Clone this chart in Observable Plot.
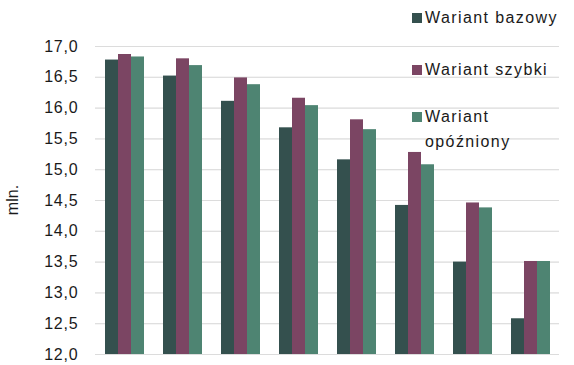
<!DOCTYPE html>
<html><head><meta charset="utf-8">
<script src="https://cdn.jsdelivr.net/npm/d3@7"></script>
<script src="https://cdn.jsdelivr.net/npm/@observablehq/plot@0.6"></script>
<style>
body{margin:0;background:#fff;font-family:"Liberation Sans",Arial,sans-serif;}
#wrap{position:relative;width:574px;height:365px;}
.leg{position:absolute;font-size:16px;color:#1a1a1a;letter-spacing:1.4px;line-height:25px;}
.sw{position:absolute;width:10px;height:10px;}
svg g[aria-label="y-axis tick label"] text{letter-spacing:0.8px;}
</style></head>
<body><div id="wrap"></div>
<script>
const groups = ["1","2","3","4","5","6","7","8"];
const seriesNames = ["Wariant bazowy","Wariant szybki","Wariant opóźniony"];
const bazowy = [16.78,16.52,16.11,15.68,15.16,14.42,13.50,12.58];
const szybki = [16.87,16.80,16.49,16.16,15.81,15.28,14.46,13.51];
const opozniony = [16.83,16.69,16.38,16.04,15.65,15.08,14.38,13.51];
const colors = ["#34504e","#7b4563","#4e8472"];
const yTicks = [12,12.5,13,13.5,14,14.5,15,15.5,16,16.5,17];

const seriesValues = [bazowy, szybki, opozniony];
const data = [];
groups.forEach((g,i)=>seriesNames.forEach((s,j)=>data.push({group:g, series:s, value:seriesValues[j][i]})));

const chart = Plot.plot({
  width:574, height:365,
  marginLeft:91, marginRight:12, marginTop:46, marginBottom:11,
  style:{fontFamily:"'Liberation Sans', Arial, sans-serif", fontSize:"16px", color:"#1a1a1a", background:"#fff"},
  fx:{domain:groups, padding:0, axis:null},
  x:{domain:seriesNames, paddingInner:0, paddingOuter:0.71, axis:null},
  y:{domain:[12,17], ticks:yTicks, tickFormat:d=>d3.format(".1f")(d).replace(".",","), tickSize:0, tickPadding:17, grid:true, label:null},
  color:{domain:seriesNames, range:colors},
  marks:[
    Plot.gridY(yTicks,{stroke:"#dcdcdc", strokeOpacity:1}),
    Plot.barY(data,{fx:"group", x:"series", y1:12, y2:"value", fill:"series"})
  ]
});
const wrap = document.getElementById("wrap");
wrap.appendChild(chart);

// y label
const ylab = document.createElement("div");
ylab.textContent = "mln.";
ylab.style.cssText = "position:absolute;left:-5px;top:191px;width:36px;text-align:center;font-size:16px;transform:rotate(-90deg);color:#1a1a1a;";
wrap.appendChild(ylab);

// legend
const legItems = [
  {html:"Wariant bazowy", sy:13, ty:5},
  {html:"Wariant szybki", sy:65, ty:57},
  {html:"Wariant<br>opóźniony", sy:112, ty:104}
];
legItems.forEach((it,i)=>{
  const sw = document.createElement("div");
  sw.className="sw"; sw.style.left="412px"; sw.style.top=it.sy+"px"; sw.style.background=colors[i];
  wrap.appendChild(sw);
  const t = document.createElement("div");
  t.className="leg"; t.style.left="425px"; t.style.top=it.ty+"px"; t.innerHTML=it.html;
  wrap.appendChild(t);
});
</script></body></html>
